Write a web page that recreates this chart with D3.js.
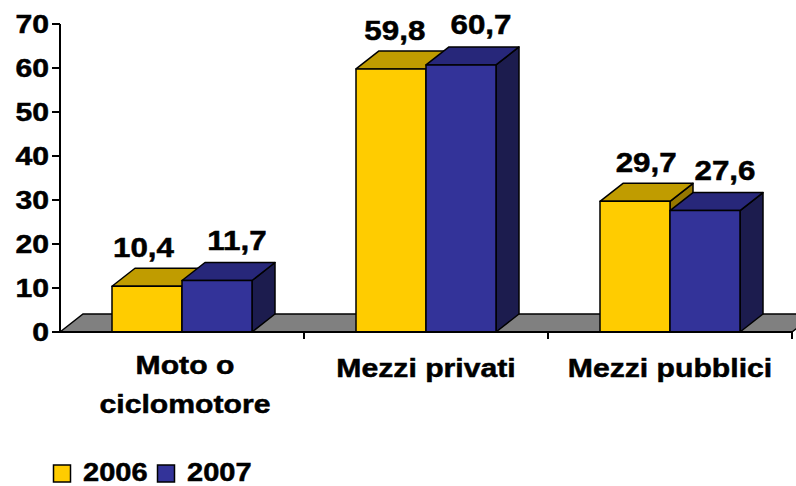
<!DOCTYPE html>
<html><head><meta charset="utf-8">
<script src="https://cdn.jsdelivr.net/npm/d3@7"></script>
<style>body{margin:0;background:#fff}svg{display:block}</style>
</head><body>
<script>
const categories = [["Moto o","ciclomotore"],["Mezzi privati"],["Mezzi pubblici"]];
const seriesNames = ["2006","2007"];
const values2006 = [10.4, 59.8, 29.7];
const values2007 = [11.7, 60.7, 27.6];
const yTicks = [0,10,20,30,40,50,60,70];

const W=796,H=486;
const svg=d3.select("body").append("svg").attr("width",W).attr("height",H);
const font="Arial, 'Liberation Sans', sans-serif";
const SX=1.16;
const DX=23, DY=-18;
const x0=d3.scaleBand().domain(d3.range(categories.length)).range([60,792]).paddingInner(0).paddingOuter(0);
const y=d3.scaleLinear().domain([0,70]).range([332,24]);
const fronts=["#FFCC00","#333399"], tops=["#C09C00","#27277A"], sides=["#957700","#1C1C4E"];
const barW=70;

function txt(x,yy,s,size,anchor){
  const t=svg.append("text").attr("x",x).attr("y",yy).attr("text-anchor",anchor||"middle").attr("font-family",font)
   .attr("font-weight","bold").attr("font-size",size).attr("fill","#000")
   .attr("stroke","#000").attr("stroke-width",0.5).text(s);
  const L=t.node().getComputedTextLength();
  t.attr("textLength",L*SX).attr("lengthAdjust","spacingAndGlyphs");
}

// floor
const fl=60, fr=792, fy=y(0);
svg.append("path").attr("d",`M${fl},${fy}L${fl+DX},${fy+DY}L${fr+DX},${fy+DY}L${fr},${fy}Z`)
  .attr("fill","#808080").attr("stroke","#000").attr("stroke-width",1.5);

// bars
const data=[values2006,values2007];
categories.forEach((c,i)=>{
  const cx=x0(i)+x0.bandwidth()/2;
  data.forEach((vals,s)=>{
    const v=vals[i];
    const xl=cx-barW+s*barW, xr=xl+barW, yt=y(v), yb=y(0);
    const g=svg.append("g").attr("stroke","#000").attr("stroke-width",1.5).attr("stroke-linejoin","round");
    g.append("path").attr("d",`M${xr},${yb}L${xr+DX},${yb+DY}L${xr+DX},${yt+DY}L${xr},${yt}Z`).attr("fill",sides[s]);
    g.append("path").attr("d",`M${xl},${yt}L${xl+DX},${yt+DY}L${xr+DX},${yt+DY}L${xr},${yt}Z`).attr("fill",tops[s]);
    g.append("rect").attr("x",xl).attr("y",yt).attr("width",barW).attr("height",yb-yt).attr("fill",fronts[s]);
  });
});

// labels
categories.forEach((c,i)=>{
  const cx=x0(i)+x0.bandwidth()/2;
  data.forEach((vals,s)=>{
    const v=vals[i];
    const fc=cx-barW/2+s*barW;
    const lx=fc+(s?20:(fc-146)*0.03-3.5);
    txt(lx,y(v)-(s?31:29),d3.format(".1f")(v).replace(".",","),27);
  });
});

// axes
const ax=svg.append("g").attr("stroke","#000").attr("stroke-width",2);
ax.append("line").attr("x1",60).attr("x2",60).attr("y1",y(70)).attr("y2",y(0)+1);
ax.append("line").attr("x1",59).attr("x2",792).attr("y1",y(0)).attr("y2",y(0));
yTicks.forEach(t=>{
  ax.append("line").attr("x1",52).attr("x2",60).attr("y1",y(t)).attr("y2",y(t));
  txt(49,y(t)+9,String(t),26,"end");
});
d3.range(categories.length+1).forEach(i=>{
  const xx=i<categories.length?x0(i):x0.range()[1];
  if(i>0) ax.append("line").attr("x1",xx).attr("x2",xx).attr("y1",y(0)).attr("y2",y(0)+7);
});
categories.forEach((c,i)=>{
  const cx=x0(i)+x0.bandwidth()/2;
  c.forEach((line,j)=>{
    txt(cx+(c.length>1?3:0), (c.length>1?374:377)+j*39, line, 26);
  });
});

// legend
const lg=[{x:53},{x:157}];
seriesNames.forEach((n,s)=>{
  svg.append("rect").attr("x",lg[s].x+0.5).attr("y",465).attr("width",17).attr("height",17)
    .attr("fill",fronts[s]).attr("stroke","#000").attr("stroke-width",1.5);
  txt(lg[s].x+30,481,n,25,"start");
});
</script>
</body></html>
